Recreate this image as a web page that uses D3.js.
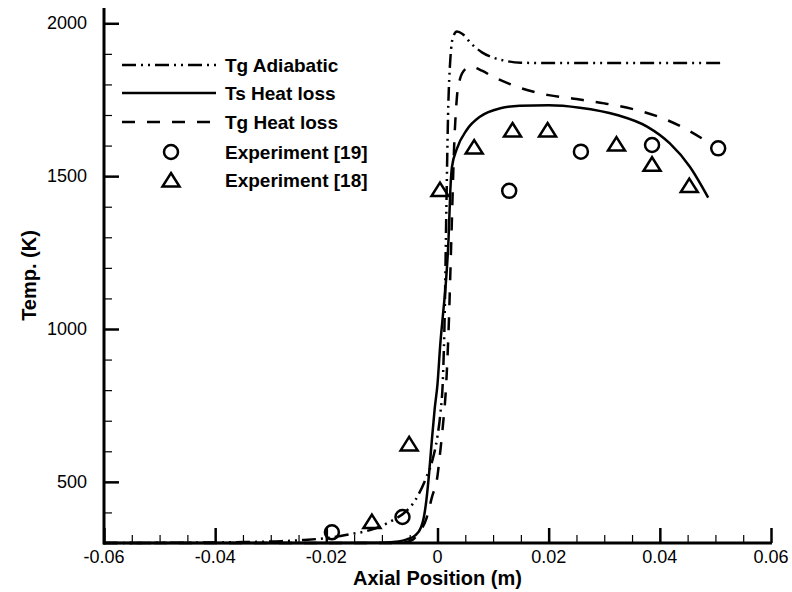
<!DOCTYPE html>
<html>
<head>
<meta charset="utf-8">
<script src="https://cdnjs.cloudflare.com/ajax/libs/d3/7.8.5/d3.min.js"></script>
<style>
  body { margin: 0; background: #fff; }
  text { font-family: Arial, "Liberation Sans", sans-serif; }
</style>
</head>
<body>
<div id="svgContainer"></div>
<script>
// Tg adiabatic (dash-dot-dot)
var tgAdiabX = [-0.06, -0.045, -0.035, -0.028, -0.024, -0.02, -0.016, -0.012, -0.008, -0.006, -0.004, -0.002, -0.001, 0, 0.0005, 0.001, 0.0013, 0.0016, 0.0019, 0.0023, 0.0028, 0.0035, 0.0045, 0.006, 0.008, 0.01, 0.012, 0.015, 0.02, 0.051];
var tgAdiabT = [300, 301, 303, 306, 310, 316, 328, 343, 375, 398, 440, 515, 565, 650, 720, 850, 1050, 1400, 1700, 1880, 1955, 1973, 1965, 1935, 1905, 1888, 1878, 1871, 1870, 1870];

// Ts heat loss (solid)
var tsX = [-0.06, -0.02, -0.01, -0.007, -0.0055, -0.004, -0.003, -0.0025, -0.002, -0.0015, -0.001, -0.0005, 0, 0.0005, 0.001, 0.0015, 0.002, 0.0023, 0.0026, 0.0035, 0.00525, 0.0077, 0.0113, 0.0148, 0.02, 0.0256, 0.0323, 0.0377, 0.0418, 0.0454, 0.0487];
var tsT = [300, 300, 301, 305, 312, 325, 350, 380, 440, 530, 640, 740, 820, 950, 1050, 1150, 1300, 1450, 1530, 1590, 1651, 1695, 1722, 1730, 1732, 1724, 1700, 1662, 1607, 1531, 1430];

// Tg heat loss (dashed)
var tgLossX = [-0.06, -0.02, -0.008, -0.006, -0.0045, -0.0035, -0.002, -0.001, 0, 0.0005, 0.001, 0.0015, 0.002, 0.0025, 0.003, 0.0035, 0.004, 0.005, 0.006, 0.008, 0.01, 0.0125, 0.015, 0.0175, 0.02, 0.025, 0.03, 0.035, 0.04, 0.045, 0.0485];
var tgLossT = [300, 300, 300, 302, 310, 330, 380, 450, 520, 600, 690, 800, 1000, 1300, 1600, 1760, 1815, 1850, 1858, 1845, 1825, 1805, 1788, 1775, 1765, 1752, 1738, 1720, 1693, 1651, 1613];

// Experiment [19] (circles)
var exp19X = [-0.019, -0.0063, 0.0129, 0.0258, 0.0386, 0.0505];
var exp19T = [335, 385, 1452, 1580, 1602, 1591];

// Experiment [18] (triangles)
var exp18X = [-0.0118, -0.0051, 0.00045, 0.0066, 0.0135, 0.0198, 0.0322, 0.0386, 0.0453];
var exp18T = [370, 624, 1456, 1595, 1651, 1651, 1605, 1539, 1469];

var xMajor = [-0.06, -0.04, -0.02, 0, 0.02, 0.04, 0.06];
var xLabels = ["-0.06", "-0.04", "-0.02", "0", "0.02", "0.04", "0.06"];
var yMajor = [500, 1000, 1500, 2000];

var legendNames = ["Tg Adiabatic", "Ts Heat loss", "Tg Heat loss", "Experiment [19]", "Experiment [18]"];

var width = 792,
    height = 592,
    margin = { top: 8, right: 21, bottom: 49, left: 104 };

var xmlns = "http://www.w3.org/2000/svg";
var svgElem = document.createElementNS(xmlns, "svg");
svgElem.setAttribute("width", width);
svgElem.setAttribute("height", height);
svgElem.style.display = "block";
document.getElementById("svgContainer").appendChild(svgElem);

var svg = d3.select(svgElem);

var x = d3.scaleLinear().domain([-0.06, 0.06]).range([margin.left, width - margin.right]);
var y = d3.scaleLinear().domain([300, 2050]).range([height - margin.bottom, margin.top]);

var zip = (xs, ts) => xs.map((v, i) => [v, ts[i]]);

var line = d3.line()
    .x(d => x(d[0]))
    .y(d => y(d[1]))
    .curve(d3.curveMonotoneX);

var dashDotDot = "14,5,2,5,2,5";
var dashed = "13,12";

var plot = svg.append("g");

plot.append("path")
    .attr("d", line(zip(tgAdiabX, tgAdiabT)))
    .attr("fill", "none")
    .attr("stroke", "#000")
    .attr("stroke-width", 2.5)
    .attr("stroke-dasharray", dashDotDot);

plot.append("path")
    .attr("d", line(zip(tsX, tsT)))
    .attr("fill", "none")
    .attr("stroke", "#000")
    .attr("stroke-width", 2.5);

plot.append("path")
    .attr("d", line(zip(tgLossX, tgLossT)))
    .attr("fill", "none")
    .attr("stroke", "#000")
    .attr("stroke-width", 2.5)
    .attr("stroke-dasharray", dashed);

var triPath = "M0,-7L8.5,6.5L-8.5,6.5Z";

plot.selectAll("circle.e19")
    .data(zip(exp19X, exp19T))
    .enter().append("circle")
    .attr("class", "e19")
    .attr("cx", d => x(d[0]))
    .attr("cy", d => y(d[1]))
    .attr("r", 7)
    .attr("fill", "none")
    .attr("stroke", "#000")
    .attr("stroke-width", 2.5);

plot.selectAll("path.e18")
    .data(zip(exp18X, exp18T))
    .enter().append("path")
    .attr("class", "e18")
    .attr("d", triPath)
    .attr("transform", d => "translate(" + x(d[0]) + "," + y(d[1]) + ")")
    .attr("fill", "none")
    .attr("stroke", "#000")
    .attr("stroke-width", 2.5)
    .attr("stroke-linejoin", "miter");

// axes
var xAxisMinor = d3.axisTop(x)
    .tickValues(d3.range(-0.055, 0.06, 0.005).filter(v => Math.abs(Math.round(v * 1000) % 20) !== 0))
    .tickSize(8).tickFormat("");
var xAxisMajor = d3.axisTop(x)
    .tickValues(xMajor).tickSize(15).tickFormat("");

var yAxisMinor = d3.axisRight(y)
    .tickValues(d3.range(400, 2001, 100).filter(v => v % 500 !== 0))
    .tickSize(8).tickFormat("");
var yAxisMajor = d3.axisRight(y)
    .tickValues(yMajor).tickSize(15).tickFormat("");

var gx = svg.append("g").attr("transform", "translate(0," + (height - margin.bottom) + ")");
gx.append("g").call(xAxisMinor).call(g => g.selectAll(".tick line").attr("stroke-width", 1.2));
gx.append("g").call(xAxisMajor).call(g => g.selectAll(".tick line").attr("stroke-width", 2.5));
gx.selectAll(".domain").remove();
gx.append("line")
    .attr("x1", x(-0.06) - 1).attr("x2", x(0.06) + 1)
    .attr("stroke", "#000").attr("stroke-width", 3);

var gy = svg.append("g").attr("transform", "translate(" + margin.left + ",0)");
gy.append("g").call(yAxisMinor).call(g => g.selectAll(".tick line").attr("stroke-width", 1.2));
gy.append("g").call(yAxisMajor).call(g => g.selectAll(".tick line").attr("stroke-width", 2.5));
gy.selectAll(".domain").remove();
gy.append("line")
    .attr("y1", y(2050)).attr("y2", y(300) + 1.5)
    .attr("stroke", "#000").attr("stroke-width", 3);

svg.append("g").selectAll("text")
    .data(xMajor)
    .enter().append("text")
    .attr("x", d => x(d))
    .attr("y", height - margin.bottom + 20)
    .attr("text-anchor", "middle")
    .attr("font-size", 18)
    .text((d, i) => xLabels[i]);

svg.append("g").selectAll("text")
    .data(yMajor)
    .enter().append("text")
    .attr("x", margin.left - 17)
    .attr("y", d => y(d) + 6)
    .attr("text-anchor", "end")
    .attr("font-size", 18)
    .text(d => d);

svg.append("text")
    .attr("x", x(0))
    .attr("y", 585)
    .attr("text-anchor", "middle")
    .attr("font-size", 20)
    .attr("font-weight", "bold")
    .text("Axial Position (m)");

svg.append("text")
    .attr("transform", "translate(36," + (margin.top + (height - margin.bottom - margin.top) / 2) + ") rotate(-90)")
    .attr("text-anchor", "middle")
    .attr("font-size", 20)
    .attr("font-weight", "bold")
    .text("Temp. (K)");

// legend
var legY = [65, 93, 122, 152, 180];
var leg = svg.append("g");
var legStyles = [dashDotDot, null, dashed];

legStyles.forEach((s, i) => {
    leg.append("line")
        .attr("x1", 122).attr("x2", 216)
        .attr("y1", legY[i]).attr("y2", legY[i])
        .attr("stroke", "#000").attr("stroke-width", 2.5)
        .attr("stroke-dasharray", s);
});

leg.append("circle")
    .attr("cx", 171).attr("cy", legY[3]).attr("r", 7)
    .attr("fill", "none").attr("stroke", "#000").attr("stroke-width", 2.5);

leg.append("path")
    .attr("d", triPath)
    .attr("transform", "translate(171," + legY[4] + ")")
    .attr("fill", "none").attr("stroke", "#000").attr("stroke-width", 2.5);

leg.selectAll("text")
    .data(legendNames)
    .enter().append("text")
    .attr("x", 225)
    .attr("y", (d, i) => legY[i] + 7)
    .attr("font-size", 19)
    .attr("font-weight", "bold")
    .text(d => d);
</script>
</body>
</html>
